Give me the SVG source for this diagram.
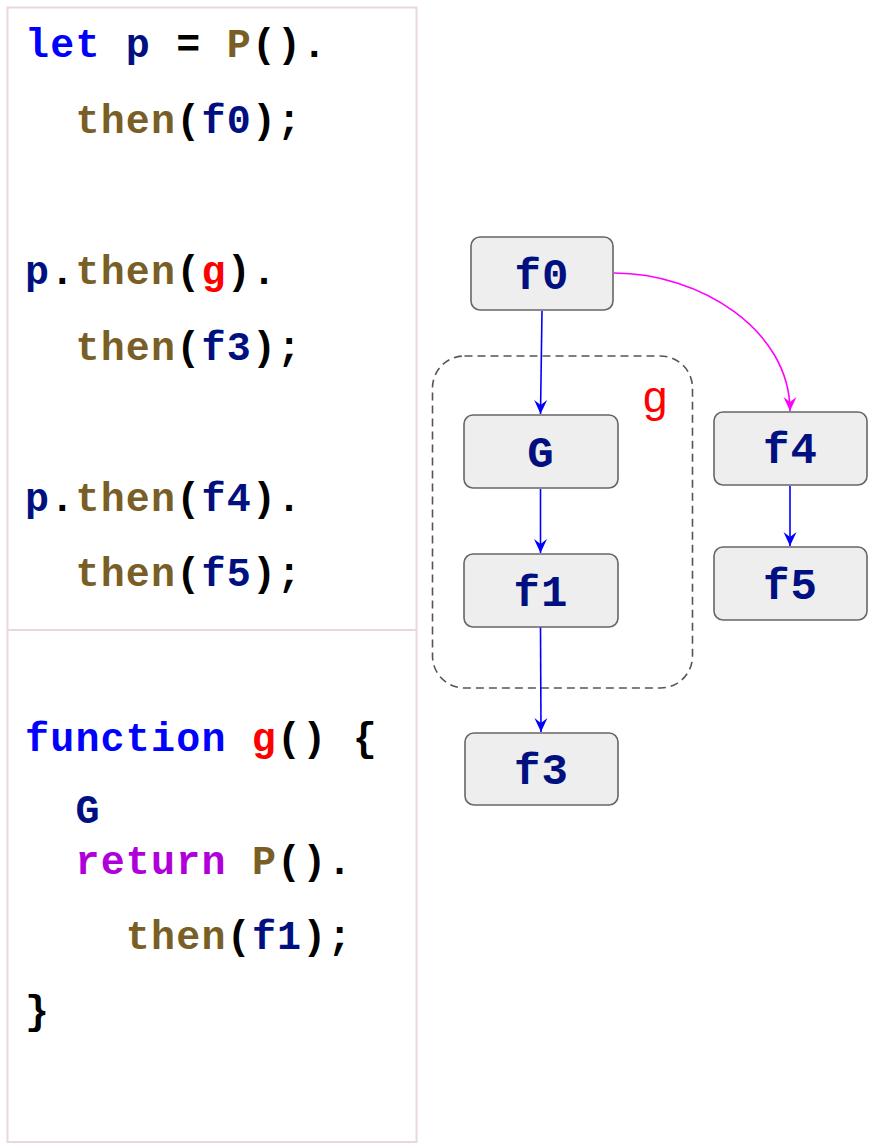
<svg xmlns="http://www.w3.org/2000/svg" width="871" height="1148" viewBox="0 0 871 1148">
<style>
.code{font-family:"Liberation Mono","DejaVu Sans Mono",monospace;font-weight:bold;font-size:40px;letter-spacing:1.2px;fill:#000;white-space:pre}
.kw{fill:#0000ff}.v{fill:#001080}.fn{fill:#795e26}.r{fill:#ff0000}.ret{fill:#af00db}
.node rect{fill:#eeeeee;stroke:#666666;stroke-width:1.6}
.node text{font-family:"Liberation Mono","DejaVu Sans Mono",monospace;font-weight:bold;font-size:44px;letter-spacing:1px;fill:#001080;text-anchor:middle}
.e{fill:none;stroke-width:1.6}
.blue{stroke:#0000ff}.mag{stroke:#ff00ff}
</style>
<defs>
<marker id="ab" viewBox="-15 -8 16 16" refX="0" refY="0" markerWidth="16" markerHeight="16" markerUnits="userSpaceOnUse" orient="auto"><path d="M0,0 L-14,-6.5 L-9,0 L-14,6.5 Z" fill="#0000ff"/></marker>
<marker id="am" viewBox="-15 -8 16 16" refX="0" refY="0" markerWidth="16" markerHeight="16" markerUnits="userSpaceOnUse" orient="auto"><path d="M0,0 L-14,-6.5 L-9,0 L-14,6.5 Z" fill="#ff00ff"/></marker>
</defs>
<rect width="871" height="1148" fill="#ffffff"/>
<g id="code-panel">
<rect x="7.5" y="7.5" width="409" height="1134.5" fill="none" stroke="#ead6e0" stroke-width="2"/>
<line x1="7.5" y1="630" x2="416.5" y2="630" stroke="#ead6e0" stroke-width="2"/>
<text class="code" x="25" y="57"><tspan class="kw">let</tspan> <tspan class="v">p</tspan> = <tspan class="fn">P</tspan>().</text>
<text class="code" x="25" y="133">  <tspan class="fn">then</tspan>(<tspan class="v">f0</tspan>);</text>
<text class="code" x="25" y="284"><tspan class="v">p</tspan>.<tspan class="fn">then</tspan>(<tspan class="r">g</tspan>).</text>
<text class="code" x="25" y="360">  <tspan class="fn">then</tspan>(<tspan class="v">f3</tspan>);</text>
<text class="code" x="25" y="511"><tspan class="v">p</tspan>.<tspan class="fn">then</tspan>(<tspan class="v">f4</tspan>).</text>
<text class="code" x="25" y="586">  <tspan class="fn">then</tspan>(<tspan class="v">f5</tspan>);</text>
<text class="code" x="25" y="751"><tspan class="kw">function</tspan> <tspan class="r">g</tspan>() {</text>
<text class="code" x="25" y="823">  <tspan class="v">G</tspan></text>
<text class="code" x="25" y="874">  <tspan class="ret">return</tspan> <tspan class="fn">P</tspan>().</text>
<text class="code" x="25" y="949">    <tspan class="fn">then</tspan>(<tspan class="v">f1</tspan>);</text>
<text class="code" x="25" y="1024">}</text>
</g>
<g id="group-g">
<rect x="432.5" y="356" width="260" height="332" rx="32" fill="none" stroke="#555555" stroke-width="1.6" stroke-dasharray="8 5"/>
<text x="643" y="412" font-family="Liberation Sans, Arial, sans-serif" font-size="44" fill="#ff0000">g</text>
</g>
<g id="connectors">
<path class="e blue" d="M542,311 L540.5,414" marker-end="url(#ab)"/>
<path class="e blue" d="M540.5,489 L540.5,553" marker-end="url(#ab)"/>
<path class="e blue" d="M540.5,627 L541,732" marker-end="url(#ab)"/>
<path class="e blue" d="M790,486 L790,546" marker-end="url(#ab)"/>
<path class="e mag" d="M614,273 C700,273 790,330 790,411" marker-end="url(#am)"/>
</g>
<g id="node-f0" class="node"><rect x="471" y="237" width="142" height="73" rx="9"/><text x="542" y="289">f0</text></g>
<g id="node-G" class="node"><rect x="464" y="415" width="154" height="73" rx="9"/><text x="541" y="467">G</text></g>
<g id="node-f1" class="node"><rect x="464" y="554" width="154" height="73" rx="9"/><text x="541" y="606">f1</text></g>
<g id="node-f3" class="node"><rect x="465" y="733" width="153" height="72" rx="9"/><text x="541.5" y="784">f3</text></g>
<g id="node-f4" class="node"><rect x="714" y="412" width="153" height="73" rx="9"/><text x="790.5" y="463">f4</text></g>
<g id="node-f5" class="node"><rect x="714" y="547" width="153" height="73" rx="9"/><text x="790.5" y="599">f5</text></g>
</svg>
